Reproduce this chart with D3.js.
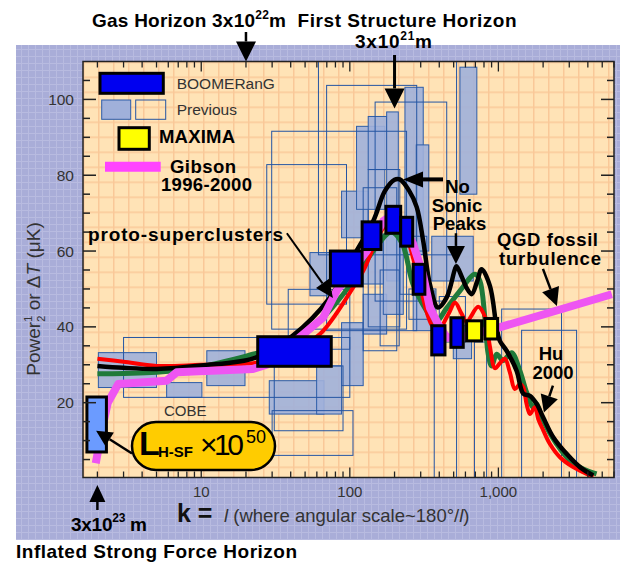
<!DOCTYPE html>
<html><head><meta charset="utf-8">
<script src="https://cdn.jsdelivr.net/npm/d3@7"></script>
<style>body{margin:0;background:#fff}svg{display:block}text{font-family:"Liberation Sans",Arial,Helvetica,sans-serif}</style>
</head><body><svg id="c" width="629" height="565"></svg>
<script>
// ---------------- data ----------------
const yTicks = [20, 40, 60, 80, 100];
const xTickLabels = [[10, "10"], [100, "100"], [1000, "1,000"]];
// theoretical curves [l, dT]
const blackCurve = [[2,29.7],[3,29.2],[5,28.9],[10,29.8],[23,31.8],[41,37.6],[73,47.6],[100,57],[144,68],[172,75.8],[200,78.8],[217,78.9],[250,76],[282,71.6],[312,62.6],[346,51.2],[392,45.1],[448,47.7],[510,55.2],[523,56],[570,53],[611,50.3],[661,48.6],[720,52],[771,55.2],[877,50.8],[973,39.8],[1023,36.3],[1136,33.7],[1327,28.4],[1470,22.4],[1630,21.8],[1808,19.7],[2004,16.1],[2340,10.9],[2880,6.5],[3540,3.0],[4350,0.8]];
const redCurve = [[2,31.6],[3,30.8],[5,29.7],[10,30],[23,30.5],[40,33.5],[63,38.1],[105,50.3],[123,54.7],[168,66.1],[210,69],[250,62],[300,50],[350,41],[400,38],[425,40.7],[470,44],[510,46.4],[565,43.5],[611,41.4],[731,45.3],[811,42.7],[877,34.8],[948,29.1],[1023,30.4],[1106,31.6],[1195,28],[1291,23.6],[1396,24.9],[1470,24],[1549,19.6],[1630,17],[1761,18.8],[1854,15.7],[2004,12.7],[2223,9.1],[2597,5.6],[3187,3.0],[4350,0.4]];
const greenCurve = [[2,27.6],[3,27.7],[5,28],[10,29.5],[23,32.9],[40,35.5],[66,42.4],[105,52],[144,60],[190,65],[225,62],[266,51.3],[329,44.2],[374,41.1],[450,45],[551,49.5],[695,53.9],[751,52.1],[811,42.4],[854,32.8],[900,29.7],[973,32.8],[1077,31.1],[1227,33.2],[1396,28.4],[1549,22.7],[1715,18.8],[1808,19.7],[1954,16.1],[2110,13.5],[2465,9.1],[3030,4.7],[3720,2.5],[4580,1.2]];
const gibson = [[1.95,4],[2.15,13],[2.35,20],[2.76,24.9],[5.85,25.8],[6.83,28],[22.3,28.9],[27.6,30],[66,42.4],[81.5,49.5],[130,60],[168,67.9],[201,70],[230,66],[266,62],[310,54],[346,45],[392,40.8],[451,37.1],[600,37.5],[1000,39.8],[5800,48.6]];
// boxes [lMin, lMax, dTmin, dTmax]
const boomerang = [[24,75,29.6,37.4],[74,121,50.8,60],[121,162,60.4,67.7],[175,220,64.7,71.8],[220,265,61.3,68.9],[267,320,48.6,56.5],[356,437,32.6,40.3],[479,580,34.6,42.4]];
const maxima = [[611,771,36.3,41.6],[811,988,36.8,42.2]];
const cobe = [[1.7,2.3,7,21.5]];
const previousFilled = [[2.03,5.0,24.0,33.2],[5.85,10.1,21.4,25.3],[10.9,19.7,24.5,33.7],[28.7,67,17.0,25.8],[59.8,88,17.0,29.7],[53.9,73.5,48.2,59.6],[88,123,24.5,41.1],[123,177,38.1,48.6],[88,133,63.5,75.8],[111,172,71,92.9],[133,177,81.5,95.5],[177,212,52.1,96.7],[235,312,59.1,103.2],[551,716,75,108.5],[356,677,52.1,63.9],[168,229,43.3,64.4],[280,340,60,88],[267,374,39,49.5],[497,660,31.6,40.3],[123,168,51.3,64.5]];
const previousOpen = [[61.5,523,59,115],[69.8,282,39,103.7],[148,449,46.8,99.3],[29.8,241,39.4,91.6],[27.6,95,46,82.8],[123,207,33.7,76.7],[133,217,40,81.5],[3.0,100,21.4,37.2],[30,105,6.1,17.9],[31,90,12.6,29.7],[38.5,100,34.1,49.9],[1052,2660,-5,44.7],[1433,3360,-5,39.1],[370,523,-5,38],[690,833,-5,36],[217,330,48.6,63.9],[160,215,35,55],[400,600,36,48],[250,380,42,50]];

// ---------------- setup ----------------
const svg = d3.select('#c');
const x = d3.scaleLog().domain([1.6, 6000]).range([83, 614]);
const y = d3.scaleLinear().domain([0, 110]).range([478.5, 61.5]);
const P = {x0: 83, x1: 614, y0: 61.5, y1: 477.5};

const defs = svg.append('defs');
const lav = defs.append('pattern').attr('id','lav').attr('patternUnits','userSpaceOnUse').attr('width',7).attr('height',7);
lav.append('rect').attr('width',7).attr('height',7).attr('fill','#A9ADD8');
lav.append('path').attr('d','M0,0.5H7M0.5,0V7').attr('stroke','#B8BBE0').attr('stroke-width',1);
const org = defs.append('pattern').attr('id','org').attr('patternUnits','userSpaceOnUse').attr('width',15).attr('height',15).attr('x',P.x0).attr('y',P.y0);
org.append('rect').attr('width',15).attr('height',15).attr('fill','#FFE3B6');
org.append('path').attr('d','M0,0.75H15M0.75,0V15').attr('stroke','#F9C898').attr('stroke-width',1.5);
defs.append('clipPath').attr('id','clip').append('rect').attr('x',P.x0).attr('y',P.y0).attr('width',P.x1-P.x0).attr('height',P.y1-P.y0);

svg.append('rect').attr('x',16).attr('y',45).attr('width',604).attr('height',495).attr('fill','url(#lav)');
svg.append('rect').attr('x',P.x0).attr('y',P.y0).attr('width',P.x1-P.x0).attr('height',P.y1-P.y0).attr('fill','url(#org)');

const g = svg.append('g').attr('clip-path','url(#clip)');
function boxes(data, fill, stroke, sw, op){
  g.append('g').selectAll('rect').data(data).join('rect')
    .attr('x', d => x(d[0])).attr('width', d => x(d[1]) - x(d[0]))
    .attr('y', d => y(d[3])).attr('height', d => y(d[2]) - y(d[3]))
    .attr('fill', fill).attr('fill-opacity', op == null ? 1 : op).attr('stroke', stroke).attr('stroke-width', sw);
}
boxes(previousFilled, '#A0B0DA', '#2D5DA8', 1, 0.9);
boxes(previousOpen, 'none', '#2555A3', 1);

const line = d3.line().x(d => x(d[0])).y(d => y(d[1])).curve(d3.curveCatmullRom.alpha(0.5));
g.append('path').datum(greenCurve).attr('d',line).attr('fill','none').attr('stroke','#1F7A3A').attr('stroke-width',5).attr('stroke-linejoin','round');
g.append('path').datum(redCurve).attr('d',line).attr('fill','none').attr('stroke','#FF0000').attr('stroke-width',4).attr('stroke-linejoin','round');
g.append('path').datum(blackCurve).attr('d',line).attr('fill','none').attr('stroke','#000').attr('stroke-width',4.5).attr('stroke-linejoin','round');
const lineLin = d3.line().x(d => x(d[0])).y(d => y(d[1]));
g.append('path').datum(gibson).attr('d',lineLin).attr('fill','none').attr('stroke','#EE55F2').attr('stroke-width',8).attr('stroke-linejoin','round');

boxes(cobe, '#6B9BFF', '#000', 3);
boxes(boomerang, '#0000F0', '#000', 3);
boxes(maxima, '#FFFF00', '#000', 3);

// ---------------- axes ----------------
const ax = svg.append('g').attr('stroke','#222');
ax.append('rect').attr('x',P.x0).attr('y',P.y0).attr('width',P.x1-P.x0).attr('height',P.y1-P.y0).attr('fill','none').attr('stroke-width',1.5);
const yMinor = d3.range(5, 110, 5);
yMinor.forEach(v => {
  const major = yTicks.includes(v), len = major ? 13 : 7;
  ax.append('line').attr('x1',P.x0).attr('x2',P.x0+len).attr('y1',y(v)).attr('y2',y(v)).attr('stroke-width',1.5);
  ax.append('line').attr('x1',P.x1).attr('x2',P.x1-len).attr('y1',y(v)).attr('y2',y(v)).attr('stroke-width',1.5);
});
const xMinor = [];
[1,10,100,1000].forEach(dec => d3.range(1,10).forEach(m => { const v = m*dec; if (v >= 1.6 && v <= 6000) xMinor.push(v); }));
xMinor.forEach(v => {
  const major = [10,100,1000].includes(v), len = major ? 10 : 6;
  ax.append('line').attr('x1',x(v)).attr('x2',x(v)).attr('y1',P.y1).attr('y2',P.y1-len).attr('stroke-width',1.3);
  ax.append('line').attr('x1',x(v)).attr('x2',x(v)).attr('y1',P.y0).attr('y2',P.y0+len).attr('stroke-width',1.3);
});
svg.append('g').selectAll('text').data(yTicks).join('text')
  .attr('x',74).attr('y',d => y(d)).attr('dy','0.36em').attr('text-anchor','end')
  .attr('font-size',15.5).attr('fill','#333').text(d => d);
svg.append('g').selectAll('text').data(xTickLabels).join('text')
  .attr('x',d => x(d[0])).attr('y',497).attr('text-anchor','middle')
  .attr('font-size',15).attr('fill','#333').text(d => d[1]);

// y axis title
const yt = svg.append('text').attr('transform','translate(40,299) rotate(-90)').attr('text-anchor','middle').attr('font-size',19).attr('fill','#333');
yt.append('tspan').text('Power');
yt.append('tspan').attr('font-size',11).attr('dy',-8).text('1');
yt.append('tspan').attr('font-size',11).attr('dx',-6).attr('dy',13).text('2');
yt.append('tspan').attr('dy',-5).text(' or \u0394');
yt.append('tspan').attr('font-style','italic').text('T');
yt.append('tspan').text(' (\u03BCK)');

// x axis title
svg.append('text').attr('x',177).attr('y',522).attr('font-size',25).attr('font-weight','bold').attr('fill','#111').text('k =');
const xt = svg.append('text').attr('x',224).attr('y',522).attr('font-size',18.5).attr('fill','#333');
xt.append('tspan').attr('font-style','italic').text('l');
xt.append('tspan').text(' (where angular scale~180\u00B0/');
xt.append('tspan').attr('font-style','italic').text('l');
xt.append('tspan').text(')');

// ---------------- annotations ----------------
function arrow(x1,y1,x2,y2,hl,hw,sw){
  const dx=x2-x1, dy=y2-y1, L=Math.hypot(dx,dy), ux=dx/L, uy=dy/L;
  const bx=x2-ux*hl, by=y2-uy*hl;
  svg.append('line').attr('x1',x1).attr('y1',y1).attr('x2',bx).attr('y2',by).attr('stroke','#000').attr('stroke-width',sw);
  svg.append('path').attr('d',`M${x2},${y2}L${bx-uy*hw},${by+ux*hw}L${bx+uy*hw},${by-ux*hw}Z`).attr('fill','#000');
}
function btext(tx, ty, str, size, anchor, tl){
  const t = svg.append('text').attr('x',tx).attr('y',ty).attr('font-size',size).attr('font-weight','bold').attr('fill','#000').attr('text-anchor',anchor||'start').text(str);
  if (tl) t.attr('textLength',tl);
  return t;
}
// top titles
const t1 = svg.append('text').attr('x',92).attr('y',27).attr('font-size',19).attr('font-weight','bold').attr('textLength',194);
t1.append('tspan').text('Gas Horizon 3x10');
t1.append('tspan').attr('font-size',12).attr('dy',-8).text('22');
t1.append('tspan').attr('dy',8).text('m');
btext(297.6, 27, 'First Structure Horizon', 19, 'start', 219);
const t2 = svg.append('text').attr('x',355).attr('y',48).attr('font-size',19).attr('font-weight','bold').attr('textLength',77);
t2.append('tspan').text('3x10');
t2.append('tspan').attr('font-size',12).attr('dy',-8).text('21');
t2.append('tspan').attr('dy',8).text('m');
arrow(x(20), 32, x(20), y(110), 20, 10, 2.5);
arrow(x(200), 55, x(200), y(97.6), 20, 10, 3);
// bottom
arrow(x(2), 510, x(2), 485, 17, 8, 2.5);
const t3 = svg.append('text').attr('x',71).attr('y',531).attr('font-size',19).attr('font-weight','bold').attr('textLength',76);
t3.append('tspan').text('3x10');
t3.append('tspan').attr('font-size',12).attr('dy',-9).text('23');
t3.append('tspan').attr('dy',9).text(' m');
btext(16, 558, 'Inflated Strong Force Horizon', 19, 'start', 281);

// in-plot annotations
btext(88, 241, 'proto-superclusters', 19, 'start', 195);
arrow(x(37.7), y(64.7), x(77), y(47.6), 18, 8, 2);
btext(457.5, 193, 'No', 18.5, 'middle');
btext(457, 211.5, 'Sonic', 18.5, 'middle');
btext(459.5, 230, 'Peaks', 18.5, 'middle');
arrow(x(424), y(78.9), x(228), y(78.9), 20, 8, 4);
arrow(x(518), y(64.7), x(518), y(56.6), 18, 9, 2.5);
btext(547.5, 246, 'QGD fossil', 18.5, 'middle', 101);
btext(550, 264.5, 'turbulence', 18.5, 'middle', 102);
arrow(x(1995), y(55.3), x(2477), y(45.5), 18, 9, 2.5);
btext(551, 360, 'Hu', 18.5, 'middle');
btext(553, 379, '2000', 18.5, 'middle');
arrow(x(2328), y(24.5), x(2024), y(17.4), 17, 9, 2.5);
svg.append('text').attr('x',164).attr('y',416).attr('font-size',15).attr('fill','#333').text('COBE');

// L_H-SF pill
svg.append('rect').attr('x',132).attr('y',422).attr('width',143).attr('height',48).attr('rx',24).attr('fill','#FFCC00').attr('stroke','#000').attr('stroke-width',2.5);
svg.append('text').attr('x',139).attr('y',455).attr('font-size',34).attr('font-weight','bold').text('L');
svg.append('text').attr('x',158).attr('y',457).attr('font-size',15).attr('font-weight','bold').text('H-SF');
svg.append('text').attr('x',200).attr('y',455).attr('font-size',30).attr('textLength',44).text('\u00D710');
svg.append('text').attr('x',246).attr('y',443).attr('font-size',18).text('50');
arrow(x(3.42), y(6.6), x(1.96), y(12.6), 16, 8, 2.5);

// legend
const lg = svg.append('g');
lg.append('rect').attr('x',100).attr('y',73.3).attr('width',63.3).attr('height',20).attr('fill','#0000F0').attr('stroke','#000').attr('stroke-width',3);
lg.append('text').attr('x',176.7).attr('y',88.5).attr('font-size',15.5).attr('fill','#333').text('BOOMERanG');
lg.append('rect').attr('x',101.7).attr('y',100).attr('width',29).attr('height',19.3).attr('fill','#A0B0DA').attr('stroke','#2D5DA8');
lg.append('rect').attr('x',135.7).attr('y',100).attr('width',30).attr('height',19.3).attr('fill','none').attr('stroke','#2555A3');
lg.append('text').attr('x',176.7).attr('y',114.5).attr('font-size',15.5).attr('fill','#333').text('Previous');
lg.append('rect').attr('x',119).attr('y',127.7).attr('width',30.3).attr('height',21.6).attr('fill','#FFFF00').attr('stroke','#000').attr('stroke-width',3);
lg.append('text').attr('x',159).attr('y',143).attr('font-size',18.5).attr('font-weight','bold').attr('textLength',76).text('MAXIMA');
lg.append('line').attr('x1',105).attr('x2',160.7).attr('y1',166.7).attr('y2',166.7).attr('stroke','#FF44FF').attr('stroke-width',10);
lg.append('text').attr('x',170).attr('y',172.5).attr('font-size',18.5).attr('font-weight','bold').attr('textLength',66).text('Gibson');
lg.append('text').attr('x',161).attr('y',190.5).attr('font-size',18.5).attr('font-weight','bold').attr('textLength',91).text('1996-2000');
</script></body></html>
